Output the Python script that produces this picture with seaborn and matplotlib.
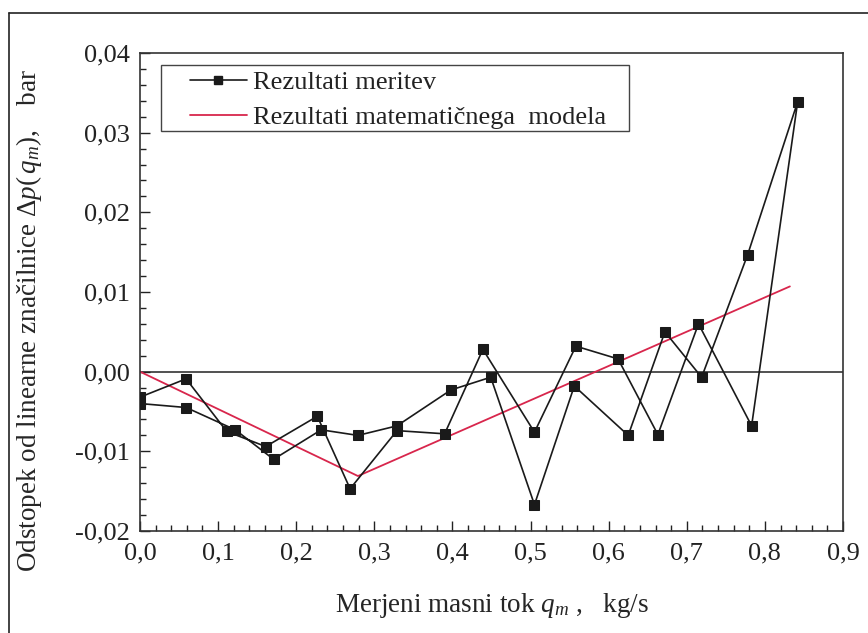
import matplotlib
matplotlib.use('Agg')
import matplotlib.pyplot as plt
import seaborn as sns
import pandas as pd
from matplotlib.lines import Line2D
from matplotlib.patches import Rectangle
from matplotlib.ticker import FixedLocator, FixedFormatter, MultipleLocator

# ---- data (path order of the measured loop: rising sweep, then falling sweep) ----
x_meas = [0.000, 0.059, 0.111, 0.161, 0.227, 0.269, 0.329, 0.390, 0.439, 0.505,
          0.558, 0.612, 0.663, 0.715, 0.783, 0.842,
          0.778, 0.719, 0.672, 0.625, 0.556, 0.505, 0.449, 0.398, 0.329, 0.279,
          0.232, 0.171, 0.122, 0.059, 0.000]
y_meas = [-0.0032, -0.0009, -0.0075, -0.0094, -0.0056, -0.0147, -0.0074, -0.0078, 0.0028, -0.0076,
          0.0032, 0.0016, -0.0079, 0.0060, -0.0068, 0.0339,
          0.0147, -0.0007, 0.0050, -0.0080, -0.0018, -0.0167, -0.0007, -0.0023, -0.0068, -0.0080,
          -0.0073, -0.0110, -0.0073, -0.0045, -0.0040]
x_model = [0.0, 0.279, 0.832]
y_model = [0.0, -0.0131, 0.0107]

x_ticks = [0.0, 0.1, 0.2, 0.3, 0.4, 0.5, 0.6, 0.7, 0.8, 0.9]
x_tick_labels = ['0,0', '0,1', '0,2', '0,3', '0,4', '0,5', '0,6', '0,7', '0,8', '0,9']
y_ticks = [-0.02, -0.01, 0.0, 0.01, 0.02, 0.03, 0.04]
y_tick_labels = ['-0,02', '-0,01', '0,00', '0,01', '0,02', '0,03', '0,04']
series_labels = ['Rezultati meritev', 'Rezultati matematičnega  modela']

sns.set_theme(style='ticks')
plt.rcParams['font.family'] = ['Liberation Serif', 'DejaVu Serif']
plt.rcParams['mathtext.fontset'] = 'custom'
plt.rcParams['mathtext.rm'] = 'Liberation Serif'
plt.rcParams['mathtext.it'] = 'Liberation Serif:italic'
plt.rcParams['text.color'] = '#222222'

fig = plt.figure(figsize=(8.68, 6.33), dpi=100)
fig.patch.set_facecolor('white')
ax = fig.add_axes([140 / 868, 1 - 531 / 633, 703 / 868, 478 / 633])
ax.set_facecolor('white')

red = '#d8264c'

df_meas = pd.DataFrame({'x': x_meas, 'y': y_meas})
df_model = pd.DataFrame({'x': x_model, 'y': y_model})

ax.axhline(0.0, color='#222222', lw=1.1, zorder=1)

sns.lineplot(data=df_model, x='x', y='y', sort=False, estimator=None, ax=ax,
             color=red, lw=1.3, label=series_labels[1], zorder=2)
sns.lineplot(data=df_meas, x='x', y='y', sort=False, estimator=None, ax=ax,
             color='#1a1a1a', lw=1.2, marker='s', markersize=7,
             markeredgecolor='#1a1a1a', markerfacecolor='#1a1a1a',
             label=series_labels[0], zorder=3)

ax.set_xlim(0.0, 0.9)
ax.set_ylim(-0.02, 0.04)
ax.xaxis.set_major_locator(FixedLocator(x_ticks))
ax.xaxis.set_major_formatter(FixedFormatter(x_tick_labels))
ax.yaxis.set_major_locator(FixedLocator(y_ticks))
ax.yaxis.set_major_formatter(FixedFormatter(y_tick_labels))
ax.xaxis.set_minor_locator(MultipleLocator(0.02))
ax.yaxis.set_minor_locator(MultipleLocator(0.002))
ax.tick_params(which='both', direction='in', top=False, right=False,
               colors='#222222', width=1.0)
ax.tick_params(which='major', length=7, labelsize=19)
ax.tick_params(axis='x', which='major', pad=8)
ax.tick_params(axis='y', which='major', pad=7)
ax.tick_params(which='minor', length=4)
for sp in ax.spines.values():
    sp.set_visible(True)
    sp.set_linewidth(1.2)
    sp.set_color('#333333')

ax.set_xlabel(r'Merjeni masni tok $q_m$ ,   kg/s', fontsize=19.5)
ax.set_ylabel(r'Odstopek od linearne značilnice $\Delta p(\,q_m),$   bar', fontsize=19.5)
ax.xaxis.set_label_coords(0.5, (531 - 605) / 478)
ax.xaxis.label.set_va('center')
ax.yaxis.set_label_coords((29 - 140) / 703, (531 - 320) / 478)
ax.yaxis.label.set_va('center')

# legend: frame drawn as rectangle, entries placed inside
h_meas = Line2D([], [], color='#1a1a1a', lw=1.2, marker='s', markersize=6)
h_model = Line2D([], [], color=red, lw=1.3)
leg = ax.legend([h_meas, h_model], series_labels, loc='center left',
                bbox_to_anchor=((190 - 140) / 703, (531 - 100) / 478),
                frameon=False, fontsize=19, handlelength=2.15, handletextpad=0.25,
                labelspacing=0.42, borderaxespad=0, borderpad=0)
ax.add_patch(Rectangle(((161 - 140) / 703, (531 - 131) / 478),
                       (629 - 161) / 703, (131 - 65) / 478,
                       transform=ax.transAxes, fill=False, edgecolor='#444444',
                       lw=1.0, zorder=5))

# outer frame of the picture (top and left edges)
fig.add_artist(Line2D([9 / 868, 1.0], [1 - 13 / 633, 1 - 13 / 633],
                      transform=fig.transFigure, color='#222222', lw=1.2))
fig.add_artist(Line2D([9 / 868, 9 / 868], [0.0, 1 - 13 / 633],
                      transform=fig.transFigure, color='#222222', lw=1.2))

fig.savefig('out.png', dpi=100, facecolor='white')
